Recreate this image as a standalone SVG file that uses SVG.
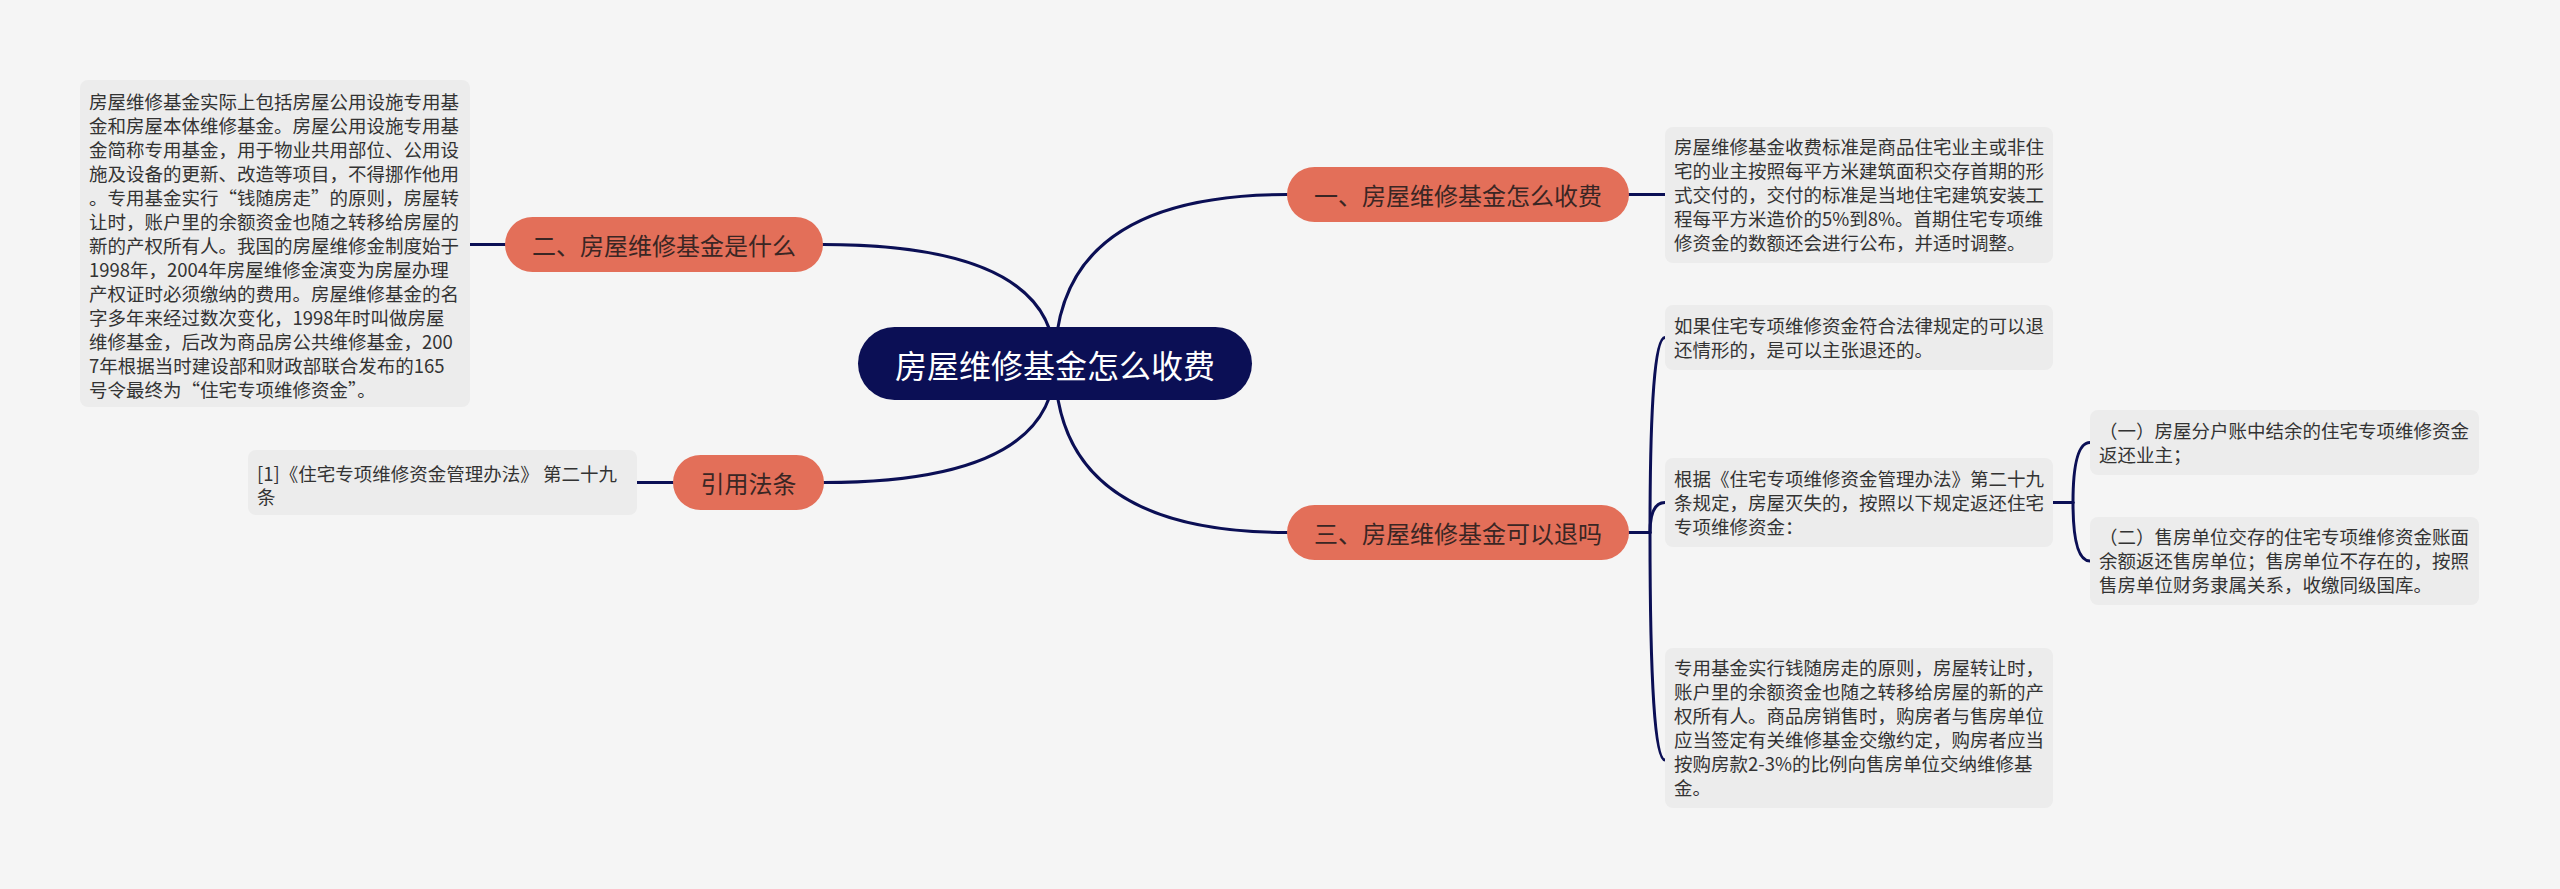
<svg xmlns="http://www.w3.org/2000/svg" width="2560" height="889" viewBox="0 0 2560 889">
<style>
.bg{fill:#f5f5f5}
.conn{fill:none;stroke:#0b0f55;stroke-width:3;stroke-linecap:round}
.root{fill:#0b0f55}
.rootT{fill:#ffffff;font-family:"Noto Sans CJK SC","Noto Sans",sans-serif;font-size:32px;text-anchor:middle;dominant-baseline:central}
.topic{fill:#e36f59}
.topicT{fill:#3a2624;font-family:"Noto Sans CJK SC","Noto Sans",sans-serif;font-size:24px;text-anchor:middle;dominant-baseline:central}
.box{fill:#ececec}
.boxT{fill:#333333;font-family:"Noto Sans CJK SC","Noto Sans",sans-serif;font-size:18.5px}
</style>
<rect class="bg" x="0" y="0" width="2560" height="889"/>
<g id="connectors">
<path class="conn" d="M1055 363 Q1055 194.5 1287 194.5"/>
<path class="conn" d="M1055 363 Q1055 532.5 1287 532.5"/>
<path class="conn" d="M1055 363 Q1055 244.5 823 244.5"/>
<path class="conn" d="M1055 363 Q1055 482.5 824 482.5"/>
<path class="conn" d="M1629 194.5 L1665 194.5"/>
<path class="conn" d="M505 244.5 L470 244.5"/>
<path class="conn" d="M673 482.5 L637 482.5"/>
<path class="conn" d="M1629 532.5 L1650 532.5"/>
<path class="conn" d="M1650 532.5 Q1650 337.5 1665 337.5"/>
<path class="conn" d="M1650 532.5 Q1650 502.5 1665 502.5"/>
<path class="conn" d="M1650 532.5 Q1650 760 1665 760"/>
<path class="conn" d="M2053 502.5 L2073 502.5"/>
<path class="conn" d="M2073 502.5 Q2073 442.5 2090 442.5"/>
<path class="conn" d="M2073 502.5 Q2073 561 2090 561"/>
</g>
<g id="root">
<rect class="root" x="858" y="327" width="394" height="73" rx="36.5"/>
<text class="rootT" x="1055" y="363.5">房屋维修基金怎么收费</text>
</g>
<g id="topic1">
<rect class="topic" x="1287" y="167" width="342" height="55" rx="27.5"/>
<text class="topicT" x="1458" y="194.5">一、房屋维修基金怎么收费</text>
</g>
<g id="topic2">
<rect class="topic" x="505" y="217" width="318" height="55" rx="27.5"/>
<text class="topicT" x="664" y="244.5">二、房屋维修基金是什么</text>
</g>
<g id="topic3">
<rect class="topic" x="1287" y="505" width="342" height="55" rx="27.5"/>
<text class="topicT" x="1458" y="532.5">三、房屋维修基金可以退吗</text>
</g>
<g id="topic4">
<rect class="topic" x="673" y="455" width="151" height="55" rx="27.5"/>
<text class="topicT" x="748.5" y="482.5">引用法条</text>
</g>
<g id="note-left">
<rect class="box" x="80" y="80" width="390" height="327" rx="8"/>
<text class="boxT">
<tspan x="89" y="109">房屋维修基金实际上包括房屋公用设施专用基</tspan>
<tspan x="89" y="133">金和房屋本体维修基金。房屋公用设施专用基</tspan>
<tspan x="89" y="157">金简称专用基金，用于物业共用部位、公用设</tspan>
<tspan x="89" y="181">施及设备的更新、改造等项目，不得挪作他用</tspan>
<tspan x="89" y="205">。专用基金实行“钱随房走”的原则，房屋转</tspan>
<tspan x="89" y="229">让时，账户里的余额资金也随之转移给房屋的</tspan>
<tspan x="89" y="253">新的产权所有人。我国的房屋维修金制度始于</tspan>
<tspan x="89" y="277">1998年，2004年房屋维修金演变为房屋办理</tspan>
<tspan x="89" y="301">产权证时必须缴纳的费用。房屋维修基金的名</tspan>
<tspan x="89" y="325">字多年来经过数次变化，1998年时叫做房屋</tspan>
<tspan x="89" y="349">维修基金，后改为商品房公共维修基金，200</tspan>
<tspan x="89" y="373">7年根据当时建设部和财政部联合发布的165</tspan>
<tspan x="89" y="397">号令最终为“住宅专项维修资金”。</tspan>
</text>
</g>
<g id="note-ref">
<rect class="box" x="248" y="450" width="389" height="65" rx="8"/>
<text class="boxT">
<tspan x="257" y="481">[1]《住宅专项维修资金管理办法》 第二十九</tspan>
<tspan x="257" y="504">条</tspan>
</text>
</g>
<g id="note-1">
<rect class="box" x="1665" y="127" width="388" height="136" rx="8"/>
<text class="boxT">
<tspan x="1674" y="154">房屋维修基金收费标准是商品住宅业主或非住</tspan>
<tspan x="1674" y="178">宅的业主按照每平方米建筑面积交存首期的形</tspan>
<tspan x="1674" y="202">式交付的，交付的标准是当地住宅建筑安装工</tspan>
<tspan x="1674" y="226">程每平方米造价的5%到8%。首期住宅专项维</tspan>
<tspan x="1674" y="250">修资金的数额还会进行公布，并适时调整。</tspan>
</text>
</g>
<g id="note-3a">
<rect class="box" x="1665" y="305" width="388" height="65" rx="8"/>
<text class="boxT">
<tspan x="1674" y="332.5">如果住宅专项维修资金符合法律规定的可以退</tspan>
<tspan x="1674" y="356.5">还情形的，是可以主张退还的。</tspan>
</text>
</g>
<g id="note-3b">
<rect class="box" x="1665" y="458" width="388" height="89" rx="8"/>
<text class="boxT">
<tspan x="1674" y="485.5">根据《住宅专项维修资金管理办法》第二十九</tspan>
<tspan x="1674" y="509.5">条规定，房屋灭失的，按照以下规定返还住宅</tspan>
<tspan x="1674" y="533.5">专项维修资金：</tspan>
</text>
</g>
<g id="note-3b1">
<rect class="box" x="2090" y="410" width="389" height="65" rx="8"/>
<text class="boxT">
<tspan x="2099" y="437.5">（一）房屋分户账中结余的住宅专项维修资金</tspan>
<tspan x="2099" y="461.5">返还业主；</tspan>
</text>
</g>
<g id="note-3b2">
<rect class="box" x="2090" y="517" width="389" height="88" rx="8"/>
<text class="boxT">
<tspan x="2099" y="544">（二）售房单位交存的住宅专项维修资金账面</tspan>
<tspan x="2099" y="568">余额返还售房单位；售房单位不存在的，按照</tspan>
<tspan x="2099" y="592">售房单位财务隶属关系，收缴同级国库。</tspan>
</text>
</g>
<g id="note-3c">
<rect class="box" x="1665" y="648" width="388" height="160" rx="8"/>
<text class="boxT">
<tspan x="1674" y="675">专用基金实行钱随房走的原则，房屋转让时，</tspan>
<tspan x="1674" y="699">账户里的余额资金也随之转移给房屋的新的产</tspan>
<tspan x="1674" y="723">权所有人。商品房销售时，购房者与售房单位</tspan>
<tspan x="1674" y="747">应当签定有关维修基金交缴约定，购房者应当</tspan>
<tspan x="1674" y="771">按购房款2-3%的比例向售房单位交纳维修基</tspan>
<tspan x="1674" y="795">金。</tspan>
</text>
</g>
</svg>
